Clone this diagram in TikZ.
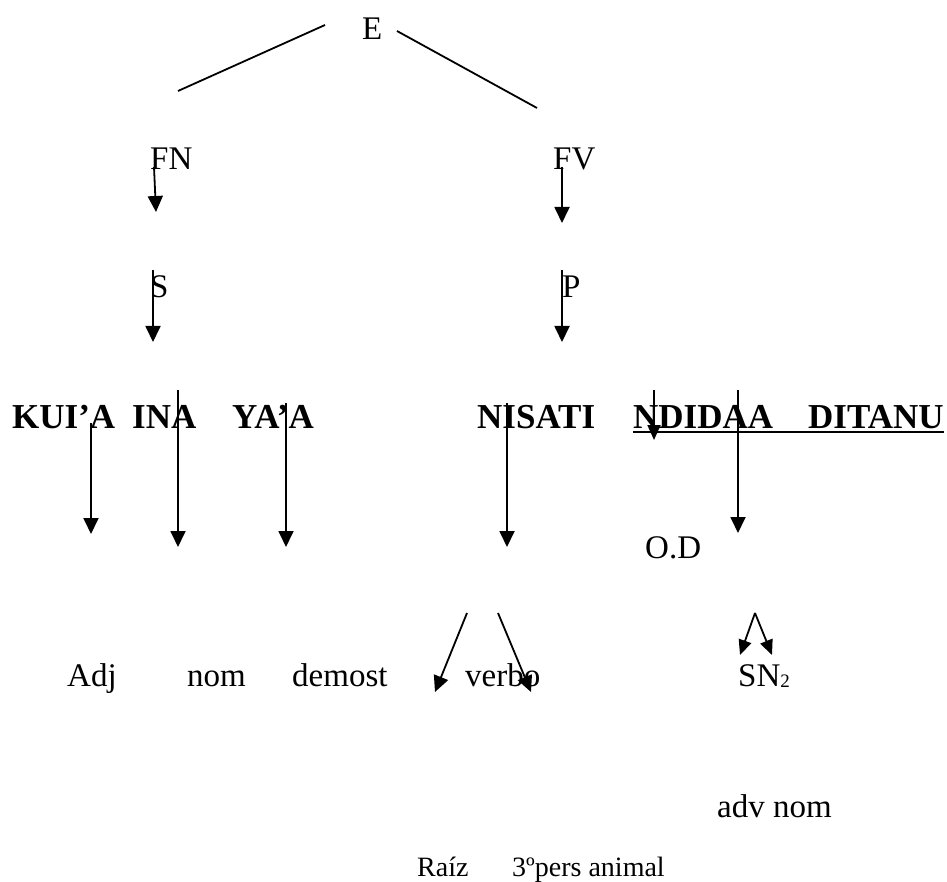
\documentclass[tikz,border=0pt]{standalone}
\usepackage{fontspec}
\setmainfont{Liberation Serif}
\usetikzlibrary{arrows.meta}
\begin{document}
\begin{tikzpicture}[x=1pt,y=-1pt,
  lbl/.style={anchor=base west,inner sep=0pt,font=\fontsize{33}{40}\selectfont},
  word/.style={anchor=base west,inner sep=0pt,font=\fontsize{35}{42}\selectfont\bfseries},
  smalllbl/.style={anchor=base west,inner sep=0pt,font=\fontsize{28}{33}\selectfont},
  branch/.style={line width=1.8pt},
  arr/.style={line width=1.8pt,-{Triangle[length=16pt,width=15pt]}},
  smallarr/.style={line width=1.8pt,-{Triangle[length=15pt,width=13pt]}},
  rule/.style={line width=2.2pt},
]
\useasboundingbox (0,0) rectangle (947,882);

% phrase labels
\node[lbl] (E)  at (362,40)  {E};
\node[lbl] (FN) at (150,170) {FN};
\node[lbl] (FV) at (553,170) {FV};
\node[lbl] (S)  at (150,298) {S};
\node[lbl] (P)  at (562,298) {P};

% sentence
\node[word] (w1) at (12,428)  {KUI’A};
\node[word] (w2) at (132,428) {INA};
\node[word] (w3) at (232,428) {YA’A};
\node[word] (w4) at (477,428) {NISATI};
\node[word] (w5) at (633,428) {NDIDAA};
\node[word] (w6) at (808,428) {DITANU};
\draw[rule] ([yshift=-4pt]w5.base west) -- ([yshift=-4pt]w6.base east);

% categories
\node[lbl] (OD)   at (645,558) {O.D};
\node[lbl] (adj)  at (67,686)  {Adj};
\node[lbl] (nom)  at (187,686) {nom};
\node[lbl] (dem)  at (292,686) {demost};
\node[lbl] (verb) at (465,686) {verbo};
\node[lbl] (sn)   at (738,686) {SN\raisebox{-1pt}{\fontsize{19}{22}\selectfont 2}};
\node[lbl] (advn) at (717,817) {adv nom};
\node[smalllbl] (raiz) at (417,876) {Raíz};
\node[smalllbl] (pers) at (512,876) {3ºpers animal};

% branch ends
\coordinate (eL) at (325,25);
\coordinate (fnTop) at (178,91);
\coordinate (eR) at (397,31);
\coordinate (fvTop) at (537,108);

\coordinate (a1s) at (154,167); \coordinate (a1e) at (156,212);
\coordinate (a2s) at (562,167); \coordinate (a2e) at (562,223);
\coordinate (a3s) at (153,270); \coordinate (a3e) at (153,342);
\coordinate (a4s) at (562,270); \coordinate (a4e) at (562,342);

\coordinate (b1s) at (91,423);  \coordinate (b1e) at (91,534);
\coordinate (b2s) at (178,390); \coordinate (b2e) at (178,547);
\coordinate (b3s) at (286,403); \coordinate (b3e) at (286,547);
\coordinate (b4s) at (507,403); \coordinate (b4e) at (507,547);
\coordinate (b5s) at (654,390); \coordinate (b5e) at (654,440);
\coordinate (b6s) at (738,390); \coordinate (b6e) at (738,533);

\coordinate (v1s) at (467,613); \coordinate (v1e) at (435,692);
\coordinate (v2s) at (498,613); \coordinate (v2e) at (531,692);
\coordinate (snTop) at (755,613);
\coordinate (snL) at (740,655); \coordinate (snR) at (772,655);

% top branches
\draw[branch] (eL) -- (fnTop);
\draw[branch] (eR) -- (fvTop);

% arrows
\draw[arr] (a1s) -- (a1e);
\draw[arr] (a2s) -- (a2e);
\draw[arr] (a3s) -- (a3e);
\draw[arr] (a4s) -- (a4e);
\draw[arr] (b1s) -- (b1e);
\draw[arr] (b2s) -- (b2e);
\draw[arr] (b3s) -- (b3e);
\draw[arr] (b4s) -- (b4e);
\draw[smallarr] (b5s) -- (b5e);
\draw[arr] (b6s) -- (b6e);
\draw[arr] (v1s) -- (v1e);
\draw[arr] (v2s) -- (v2e);
\draw[smallarr] (snTop) -- (snL);
\draw[smallarr] (snTop) -- (snR);
\end{tikzpicture}
\end{document}
